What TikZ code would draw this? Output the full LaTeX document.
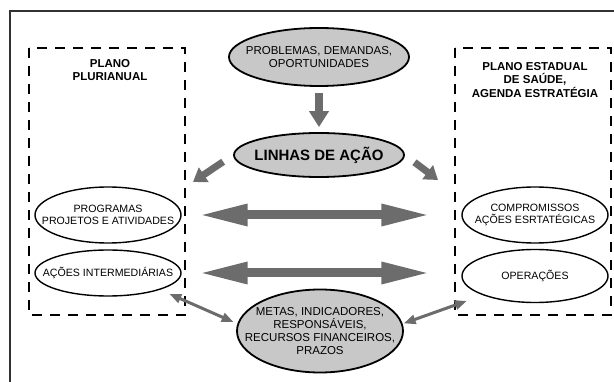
\documentclass[tikz,border=0pt]{standalone}
\usepackage{fontspec}
\setmainfont{Liberation Sans}
\usetikzlibrary{shapes,arrows.meta}
\definecolor{agray}{RGB}{108,108,108}
\definecolor{ogray}{RGB}{200,200,200}
\definecolor{fgray}{RGB}{50,50,50}

\begin{document}
\begin{tikzpicture}[x=1pt,y=-1pt]
\tikzstyle{oval}=[ellipse,draw,line width=1.4pt,inner sep=0pt]
\tikzstyle{goval}=[oval,fill=ogray,line width=1.8pt]
\tikzstyle{txt}=[align=center,inner sep=0pt,font=\fontsize{10.6}{12.5}\selectfont]
\tikzstyle{gtxt}=[align=center,inner sep=0pt,font=\fontsize{11.5}{13}\selectfont]
\tikzstyle{ttl}=[align=center,inner sep=0pt,font=\fontsize{11.5}{13.5}\selectfont\bfseries]
\tikzstyle{box}=[draw,line width=2.8pt,dash pattern=on 10pt off 8pt]
\tikzstyle{down}=[draw=agray,line width=8pt,-{Triangle[length=16pt,width=19pt]}]
\tikzstyle{diag}=[draw=agray,line width=7pt,-{Triangle[length=13pt,width=17pt]}]
\tikzstyle{both}=[draw=agray,line width=9pt,{Triangle[length=50pt,width=20pt]}-{Triangle[length=50pt,width=20pt]}]
\tikzstyle{thin}=[draw=agray,line width=3pt,{Triangle[length=12pt,width=9pt]}-{Triangle[length=12pt,width=9pt]}]
\useasboundingbox (0,0) rectangle (614,382);

% frame and boxes
\draw[fgray,line width=2pt] (614,11) -- (10,11) -- (10,382);
\draw[box] (29,48) rectangle (185,315);
\draw[box] (455,48) rectangle (611,315);
\node[ttl] (ppa) at (110,70) {PLANO\\PLURIANUAL};
\node[ttl] (pes) at (535,80) {PLANO ESTADUAL\\DE SAÚDE,\\AGENDA ESTRATÉGIA};

% ellipses
\node[goval,minimum width=180,minimum height=58] (prob) at (319,57) {};
\node[gtxt] (probtxt) at (prob) {PROBLEMAS, DEMANDAS,\\OPORTUNIDADES};
\node[goval,minimum width=170,minimum height=44] (linhas) at (319,155) {};
\node[inner sep=0pt,font=\fontsize{15}{17}\selectfont\bfseries] (linhastxt) at (linhas) {LINHAS DE AÇÃO};
\node[oval,minimum width=146,minimum height=56] (prog) at (108,215) {};
\node[txt] (progtxt) at (prog) {PROGRAMAS\\PROJETOS E ATIVIDADES};
\node[oval,minimum width=146,minimum height=46] (acoes) at (108,273) {};
\node[txt] (acoestxt) at (acoes) {AÇÕES INTERMEDIÁRIAS};
\node[oval,minimum width=146,minimum height=56] (comp) at (535,215) {};
\node[txt] (comptxt) at (comp) {COMPROMISSOS\\AÇÕES ESRTATÉGICAS};
\node[oval,minimum width=146,minimum height=53] (oper) at (535,276) {};
\node[txt] (opertxt) at (oper) {OPERAÇÕES};
\node[goval,minimum width=166,minimum height=83] (metas) at (320,331) {};
\node[gtxt] (metastxt) at (metas) {METAS, INDICADORES,\\RESPONSÁVEIS,\\RECURSOS FINANCEIROS,\\PRAZOS};

% arrows
\coordinate (lt) at (193,182);
\coordinate (rt) at (438,180);
\draw[down,shorten <=6pt,shorten >=5pt] (prob.south) -- (linhas.north);
\draw[diag,shorten <=12pt] (linhas.west) -- (lt);
\draw[diag,shorten <=12pt] (linhas.east) -- (rt);
\draw[both,shorten <=16pt,shorten >=30pt] (prog.east) -- (prog.east -| comp.west);
\draw[both,shorten <=16pt,shorten >=30pt] (acoes.east) -- (acoes.east -| oper.west);
\draw[thin,shorten <=10pt,shorten >=4pt] (acoes.south east) -- (metas.175);
\draw[thin,shorten <=1pt,shorten >=17pt] (metas.5) -- (oper.south west);
\end{tikzpicture}
\end{document}
